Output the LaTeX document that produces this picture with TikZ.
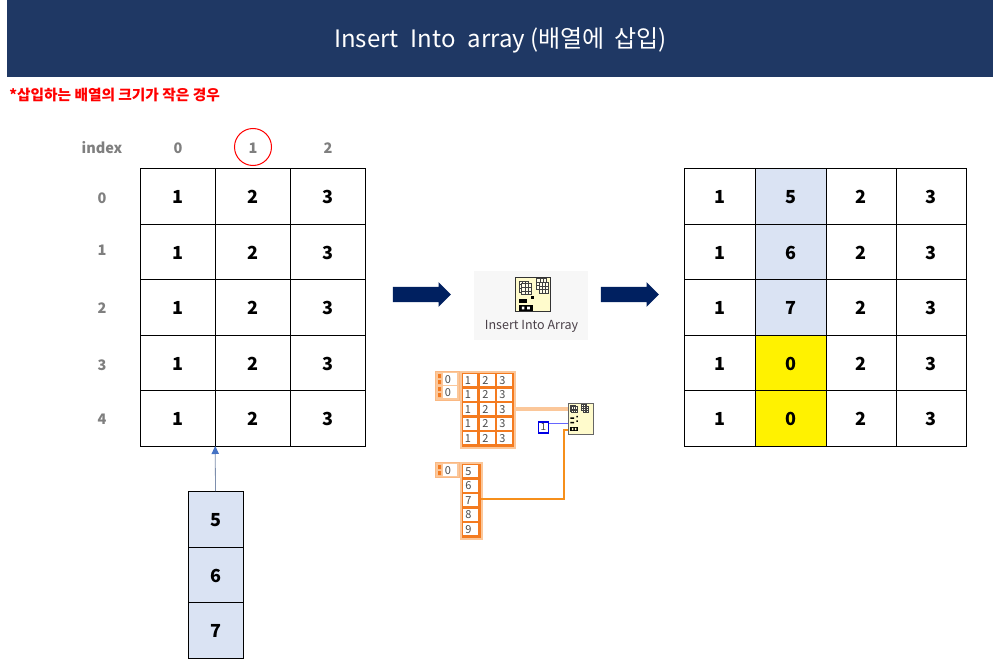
\documentclass[tikz,border=0pt]{standalone}
\usepackage{fontspec}
\setmainfont{Noto Sans CJK KR}
\usetikzlibrary{shapes.arrows,arrows.meta}
\definecolor{barblue}{HTML}{1F3864}
\definecolor{navyarrow}{HTML}{002060}
\definecolor{paleblue}{HTML}{DAE3F3}
\definecolor{lvorange}{HTML}{F47B20}
\definecolor{lvlight}{HTML}{FBC79A}
\definecolor{idxgray}{HTML}{7F7F7F}
\definecolor{iconbg}{HTML}{FFFBCC}
\definecolor{tipblue}{HTML}{4472C4}
\definecolor{pallabelc}{HTML}{4A4048}
\newcommand{\px}[1]{\fontsize{\dimexpr#1pt*3/4\relax}{\dimexpr#1pt*9/10\relax}\selectfont}
\tikzset{
  x=0.75pt,y=-0.75pt,
  cell/.style={draw=black,line width=0.75pt,inner sep=0pt,outer sep=0pt,anchor=north west,font=\px{18}\bfseries,text=black,align=center,text height=11.4pt,text depth=0pt},
  idx/.style={inner sep=0pt,text=idxgray,font=\px{14.5}\bfseries},
  lvnum/.style={inner sep=0pt,font=\px{11},text=black!70},
  lvcell/.style={fill=white,draw=none,minimum width=14.5*0.75pt,minimum height=12*0.75pt,inner sep=0.8pt,anchor=north west,font=\px{11},text=black!70,align=left},
  lvarr/.style={fill=lvorange,draw=lvlight,line width=1.5pt},
  lvidx/.style={fill=lvlight,draw=lvlight!80!lvorange,line width=0.8pt},
  bigarrow/.style={single arrow,fill=navyarrow,draw=none,inner xsep=0pt,inner ysep=5.6pt,single arrow head extend=3.4pt,single arrow tip angle=90,minimum height=43.5pt},
}
\newcommand{\lvgrid}[2]{%
  \draw[black!75,line width=0.45pt,fill=white!60!iconbg] (#1,#2) rectangle ++(7,8);
  \draw[black!75,line width=0.35pt] (#1+2.4,#2) -- ++(0,8) (#1+4.7,#2) -- ++(0,8) (#1,#2+2.7) -- ++(7,0) (#1,#2+5.3) -- ++(7,0);}
\begin{document}
\begin{tikzpicture}
\useasboundingbox (0,0) rectangle (993,660);
\fill[white] (0,0) rectangle (993,660);
% title bar
\fill[barblue] (7,0) rectangle (993,77);
\node[inner sep=0pt,text=white,font=\px{24}] (title) at (500.5,40.5) {Insert\; Into\; array (배열에\, 삽입)};
\node[anchor=west,inner sep=0pt,text=red,font=\px{14.7}\bfseries] (note) at (9,95.5) {*삽입하는 배열의 크기가 작은 경우};
% index labels
\node[idx] (ix) at (102,148) {index};
\node[idx] (c0) at (178,148) {0};
\node[idx] (c1) at (253,148) {1};
\node[idx] (c2) at (328,148) {2};
\node[idx] (r0) at (102,198) {0};
\node[idx] (r1) at (102,250.5) {1};
\node[idx] (r2) at (102,308.5) {2};
\node[idx] (r3) at (102,365) {3};
\node[idx] (r4) at (102,419.5) {4};
\node[draw=red,line width=0.75pt,circle,minimum size=37*0.75pt,inner sep=0pt] (ring) at (253,147) {};
% tables
\foreach \r/\y/\h in {0/168/56,1/224/55,2/279/56,3/335/55,4/390/56}{
  \foreach \c/\x/\v in {0/140.3/1,1/215.2/2,2/290.1/3}{
    \node[cell,minimum width=74.9*0.75pt,minimum height=\h*0.75pt] (L\r\c) at (\x,\y) {\v};
  }
  \node[cell,minimum width=71*0.75pt,minimum height=\h*0.75pt] (R\r0) at (684.3,\y) {1};
  \node[cell,minimum width=70*0.75pt,minimum height=\h*0.75pt] (R\r2) at (826,\y) {2};
  \node[cell,minimum width=70.9*0.75pt,minimum height=\h*0.75pt] (R\r3) at (896,\y) {3};
}
\foreach \r/\y/\h/\v/\col in {0/168/56/5/paleblue,1/224/55/6/paleblue,2/279/56/7/paleblue,3/335/55/0/yellow,4/390/56/0/yellow}{
  \node[cell,fill=\col,minimum width=70.7*0.75pt,minimum height=\h*0.75pt] (R\r1) at (755.3,\y) {\v};
}
% stacked array
\node[cell,fill=paleblue,minimum width=55*0.75pt,minimum height=56*0.75pt] (S0) at (188,491) {5};
\node[cell,fill=paleblue,minimum width=55*0.75pt,minimum height=55*0.75pt] (S1) at (188,547) {6};
\node[cell,fill=paleblue,minimum width=55*0.75pt,minimum height=56*0.75pt] (S2) at (188,602) {7};
\draw[draw=tipblue!60!black!60,line width=0.6pt,-{Triangle[length=6pt,width=5.5pt,color=tipblue]}] (S0.north) -- (L41.south west);
% block arrows
\node[bigarrow] (A1) at (418,294.5) {};
\node[bigarrow] (A2) at (626,294.5) {};
% function palette
\node[fill=black!3,minimum width=114*0.75pt,minimum height=69*0.75pt,inner sep=0pt,anchor=north west] (pal) at (474,271) {};
\node[inner sep=0pt,text=pallabelc,font=\px{12.5}] (pallabel) at (531.5,326) {Insert Into Array};
\node[draw=black!80,line width=0.8pt,fill=iconbg,minimum width=35*0.75pt,minimum height=34*0.75pt,inner sep=0pt,anchor=north west] (bigicon) at (515,277) {};
\begin{scope}[shift={(515,277)},x=1.35*0.75pt,y=-1.35*0.75pt]
  \lvgrid{3}{3} \lvgrid{16}{1}
  \lvgrid{18}{4}
  \lvgrid{5}{5}
  \fill[black] (3,16) rectangle (9,19);
  \fill[black] (12,14) rectangle (14,16);
  \fill[black] (3,21) rectangle (13,25);
  \fill[white] (5,22) rectangle (7,24) (9,22) rectangle (11,24);
\end{scope}
% index controls
\node[lvidx,minimum width=24*0.75pt,minimum height=29*0.75pt,inner sep=0pt,anchor=north west] (id1) at (435,371) {};
\node[fill=white,minimum width=14*0.75pt,minimum height=12*0.75pt,inner sep=0pt,anchor=north west,lvnum,align=left] (id1a) at (443,373) {0\hspace{3.5pt}};
\node[fill=white,minimum width=14*0.75pt,minimum height=12*0.75pt,inner sep=0pt,anchor=north west,lvnum,align=left] (id1b) at (443,386) {0\hspace{3.5pt}};
\node[lvidx,minimum width=24*0.75pt,minimum height=15*0.75pt,inner sep=0pt,anchor=north west] (id2) at (435,462) {};
\node[fill=white,minimum width=14*0.75pt,minimum height=12*0.75pt,inner sep=0pt,anchor=north west,lvnum,align=left] (id2a) at (443,464) {0\hspace{3.5pt}};
\fill[lvorange] (438,374) rectangle (441,378) (438,380) rectangle (441,384)
  (438,387) rectangle (441,391) (438,393) rectangle (441,397)
  (438,465) rectangle (441,469) (438,471) rectangle (441,475);
% array constant 1
\node[lvarr,minimum width=54*0.75pt,minimum height=76*0.75pt,inner sep=0pt,anchor=north west] (arrA) at (460,371) {};
\foreach \r/\y in {0/374,1/388.5,2/403,3/417.5,4/432}{
  \node[lvcell] (a\r0) at (462.5,\y) {1\hspace{3pt}};
  \node[lvcell] (a\r1) at (480,\y) {2\hspace{3pt}};
  \node[lvcell] (a\r2) at (497,\y) {3\hspace{3pt}};
}
% array constant 2
\node[lvarr,minimum width=21*0.75pt,minimum height=76*0.75pt,inner sep=0pt,anchor=north west] (arrB) at (460,462) {};
\foreach \r/\y/\v in {0/465/5,1/479.7/6,2/494.2/7,3/508.7/8,4/523/9}{
  \node[lvcell] (b\r) at (463,\y) {\v\hspace{3pt}};
}
% small function icon
\node[draw=black!60,line width=0.8pt,fill=iconbg,minimum width=25*0.75pt,minimum height=31*0.75pt,inner sep=0pt,anchor=north west] (fn) at (568,403) {};
\begin{scope}[shift={(568,403)},x=0.75*0.75pt,y=-0.75*0.75pt]
  \lvgrid{3}{3} \lvgrid{18}{2}
  \lvgrid{5}{5} \lvgrid{20}{4}
  \fill[black] (3,19) rectangle (8,21) (11,17) rectangle (13,19);
  \fill[black] (3,25) rectangle (8,27) (11,23) rectangle (13,25);
  \fill[black] (3,32) rectangle (13,37);
  \fill[iconbg] (5,33) rectangle (7,36) (9,33) rectangle (11,36);
\end{scope}
% numeric constant
\node[draw=blue!90!black,line width=1.2pt,fill=white,minimum width=10*0.75pt,minimum height=11*0.75pt,inner sep=0pt,anchor=north west,font=\px{10},text=black!70] (k1) at (537.5,421) {1};
% wires
\coordinate (fnA) at (568,409);
\coordinate (fnB) at (568,423.5);
\coordinate (fnC) at (568,430);
\coordinate (wB) at (481,499);
\coordinate (wA) at (514,409);
\coordinate (k1E) at (548.5,423.5);
\draw[lvlight,line width=2.4pt] (wA) -- (fnA);
\draw[blue!60,line width=1pt] (k1E) -- (fnB);
\draw[lvorange!85!yellow,line width=1.3pt] (wB) -| (564,430) -- (fnC);
\end{tikzpicture}
\end{document}
